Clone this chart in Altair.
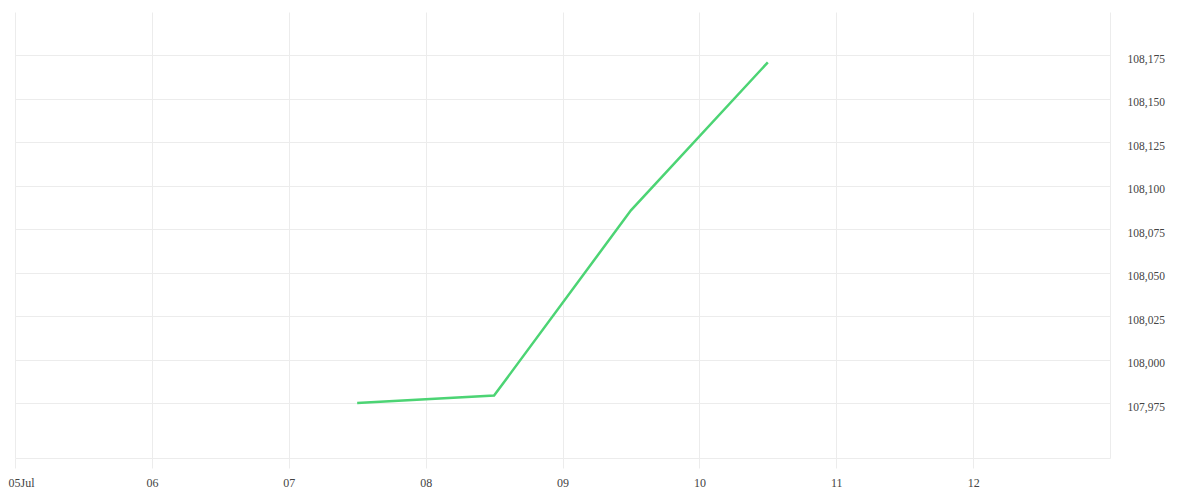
import altair as alt
import pandas as pd

dates = ["2025-07-07T12:00:00Z", "2025-07-08T12:00:00Z", "2025-07-09T12:00:00Z", "2025-07-10T12:00:00Z"]
values = [107.975, 107.9793, 108.0859, 108.171]
y_ticks = [107.975, 108.0, 108.025, 108.05, 108.075, 108.1, 108.125, 108.15, 108.175]
x_tick_days = [5, 6, 7, 8, 9, 10, 11, 12]

df = pd.DataFrame({"date": dates, "value": values})

GRID = "#ececec"
TEXT = "#444444"
FONT = "Liberation Serif"

x_vals = [alt.DateTime(year=2025, month=7, date=d, utc=True) for d in x_tick_days]

chart = alt.Chart(df).mark_line(color="#4cd474", strokeWidth=2.5).encode(
    x=alt.X(
        "date:T",
        scale=alt.Scale(
            type="utc",
            domain=[alt.DateTime(year=2025, month=7, date=5, utc=True),
                    alt.DateTime(year=2025, month=7, date=13, utc=True)],
        ),
        axis=alt.Axis(
            title=None,
            values=x_vals,
            labelExpr="utcFormat(datum.value, '%d') + (utcFormat(datum.value, '%d') == '05' ? 'Jul' : '')",
            grid=True,
            gridColor=GRID,
            domainColor=GRID,
            tickColor=GRID,
            tickSize=10,
            labelPadding=9,
            labelFlush=True,
            labelFlushOffset=7,
            labelFont=FONT,
            labelFontSize=12,
            labelColor=TEXT,
        ),
    ),
    y=alt.Y(
        "value:Q",
        scale=alt.Scale(domain=[107.9434, 108.2], nice=False, zero=False),
        axis=alt.Axis(
            title=None,
            orient="right",
            values=y_ticks,
            labelExpr="replace(format(datum.value, '.3f'), '.', ',')",
            grid=True,
            gridColor=GRID,
            domainColor=GRID,
            ticks=False,
            labelPadding=17,
            labelBaseline="middle",
            labelOffset=4,
            labelFont=FONT,
            labelFontSize=11.5,
            labelColor=TEXT,
        ),
    ),
).properties(
    width=1095,
    height=446,
    autosize=alt.AutoSizeParams(type="none"),
    padding={"left": 7, "top": 4, "right": 82, "bottom": 34},
).configure_view(stroke=None)

chart.save("out.html", embed_options={"renderer": "svg", "actions": False})
